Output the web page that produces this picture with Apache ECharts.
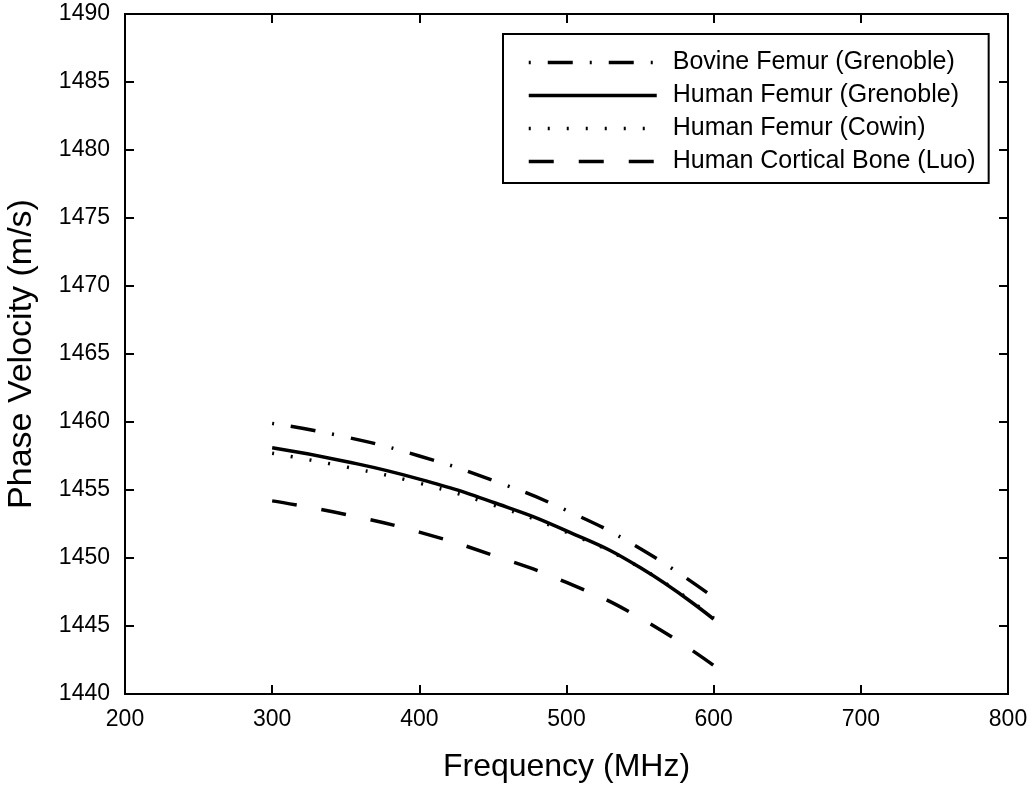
<!DOCTYPE html>
<html>
<head>
<meta charset="utf-8">
<script src="https://cdn.jsdelivr.net/npm/echarts@6/dist/echarts.min.js"></script>
<style>
  html, body { margin: 0; padding: 0; background: #fff; }
  #main { width: 1035px; height: 789px; }
</style>
</head>
<body>
<div id="main"></div>
<script>
// frequency points (MHz)
var freq = [300, 350, 400, 450, 500, 550, 600];

// phase velocity (m/s)
var bovineGrenoble = [1459.9, 1458.9, 1457.5, 1455.7, 1453.5, 1450.7, 1447.1];
var humanGrenoble  = [1458.1, 1457.1, 1455.8, 1454.1, 1452.0, 1449.3, 1445.5];
var humanCowin     = [1457.7, 1456.7, 1455.5, 1453.9, 1451.9, 1449.3, 1445.6];
var humanLuo       = [1454.2, 1453.2, 1451.9, 1450.2, 1448.2, 1445.6, 1442.1];

var seriesNames = [
  'Bovine Femur (Grenoble)',
  'Human Femur (Grenoble)',
  'Human Femur (Cowin)',
  'Human Cortical Bone (Luo)'
];

var xTicks = [200, 300, 400, 500, 600, 700, 800];
var yMin = 1440, yMax = 1490, yStep = 5;

function pairs(ys) {
  var out = [];
  for (var i = 0; i < freq.length; i++) {
    out.push([freq[i], ys[i]]);
  }
  return out;
}

var font = 'Liberation Sans, Arial, sans-serif';

function mkSeries(name, ys, dash) {
  return {
    name: name,
    type: 'line',
    data: pairs(ys),
    smooth: true,
    symbol: 'none',
    lineStyle: { color: '#000', width: 3.5, type: dash, cap: 'butt' },
    itemStyle: { color: '#000' },
    z: 3
  };
}

var chart = echarts.init(document.getElementById('main'));

var option = {
  animation: false,
  backgroundColor: '#fff',
  grid: {
    left: 125, right: 27, top: 14, bottom: 95,
    outerBoundsMode: 'none',
    containLabel: false,
    show: true, borderColor: '#000', borderWidth: 2
  },
  legend: {
    left: 503, top: 34,
    orient: 'vertical',
    itemWidth: 128, itemHeight: 25, itemGap: 8,
    padding: [16, 13, 9, 24],
    borderColor: '#000', borderWidth: 2,
    backgroundColor: '#fff',
    itemStyle: { opacity: 0 },
    lineStyle: { width: 3.5 },
    textStyle: { fontFamily: font, fontSize: 25, color: '#000', padding: [0, 0, 0, 11] },
    data: seriesNames
  },
  xAxis: [{
    type: 'value',
    min: xTicks[0], max: xTicks[xTicks.length - 1], interval: 100,
    name: 'Frequency (MHz)',
    nameLocation: 'middle', nameGap: 57,
    nameTextStyle: { fontFamily: font, fontSize: 32, color: '#000' },
    axisLine: { lineStyle: { color: '#000', width: 2 } },
    axisTick: { inside: true, length: 9, lineStyle: { color: '#000', width: 2 } },
    axisLabel: { fontFamily: font, fontSize: 23, color: '#000', margin: 14 },
    splitLine: { show: false }
  }, {
    type: 'value', position: 'top',
    min: xTicks[0], max: xTicks[xTicks.length - 1], interval: 100,
    axisLine: { lineStyle: { color: '#000', width: 2 } },
    axisTick: { inside: true, length: 9, lineStyle: { color: '#000', width: 2 } },
    axisLabel: { show: false },
    splitLine: { show: false }
  }],
  yAxis: [{
    type: 'value',
    min: yMin, max: yMax, interval: yStep,
    name: 'Phase Velocity (m/s)',
    nameLocation: 'middle', nameGap: 86,
    nameTextStyle: { fontFamily: font, fontSize: 34, color: '#000' },
    axisLine: { show: true, lineStyle: { color: '#000', width: 2 } },
    axisTick: { show: true, inside: true, length: 9, lineStyle: { color: '#000', width: 2 } },
    axisLabel: {
      fontFamily: font, fontSize: 23, color: '#000', margin: 15,
      formatter: function (v) { return String(v); }
    },
    splitLine: { show: false }
  }, {
    type: 'value', position: 'right',
    min: yMin, max: yMax, interval: yStep,
    axisLine: { show: true, lineStyle: { color: '#000', width: 2 } },
    axisTick: { show: true, inside: true, length: 9, lineStyle: { color: '#000', width: 2 } },
    axisLabel: { show: false },
    splitLine: { show: false }
  }],
  series: [
    mkSeries(seriesNames[0], bovineGrenoble, [2, 17, 25, 17]),
    mkSeries(seriesNames[1], humanGrenoble, 'solid'),
    mkSeries(seriesNames[2], humanCowin, [2, 17]),
    mkSeries(seriesNames[3], humanLuo, [25, 25])
  ]
};

chart.setOption(option);
</script>
</body>
</html>
